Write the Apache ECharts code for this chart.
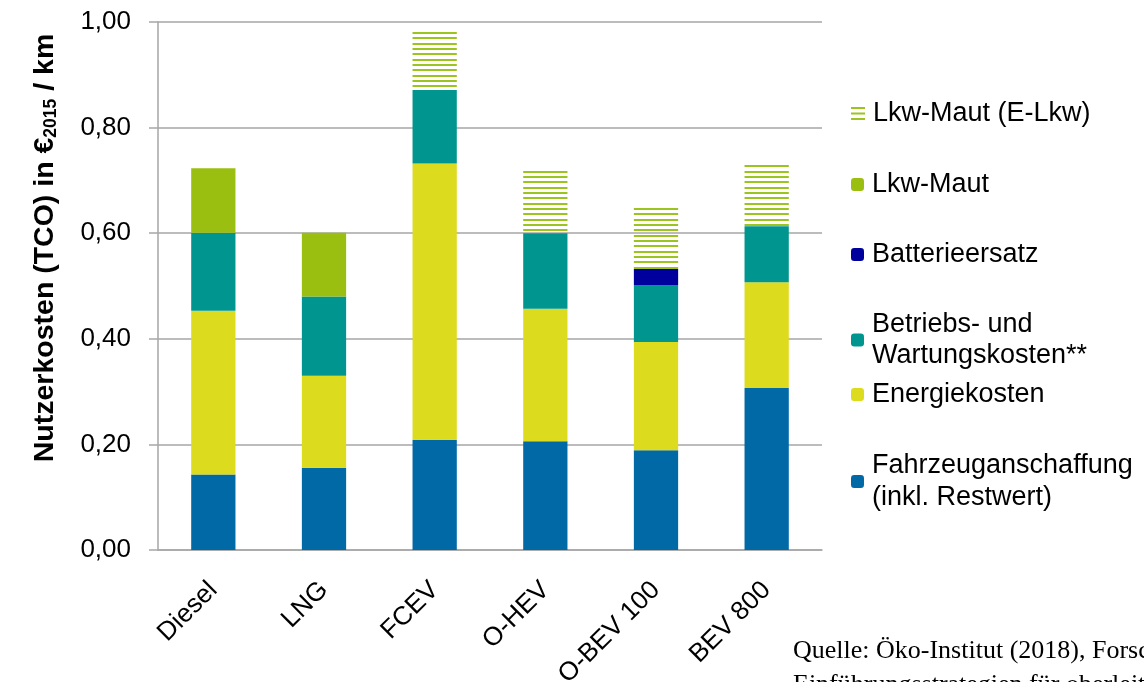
<!DOCTYPE html>
<html>
<head>
<meta charset="utf-8">
<script src="https://cdn.jsdelivr.net/npm/echarts@6/dist/echarts.min.js"></script>
<style>
  html, body { margin: 0; padding: 0; background: #fff; }
  #chart { width: 1144px; height: 682px; }
</style>
</head>
<body>
<div id="chart"></div>
<script>
const categories = ['Diesel', 'LNG', 'FCEV', 'O-HEV', 'O-BEV 100', 'BEV 800']
const yTicks = [0, 0.2, 0.4, 0.6, 0.8, 1.0]

// Kostenbestandteile in €2015 / km (von unten nach oben gestapelt)
const fahrzeug = [0.143, 0.156, 0.209, 0.206, 0.189, 0.307]
const energie = [0.310, 0.174, 0.523, 0.251, 0.205, 0.200]
const betrieb = [0.148, 0.150, 0.139, 0.143, 0.108, 0.106]
const batterie = [0, 0, 0, 0, 0.030, 0]
const maut = [0.122, 0.121, 0, 0, 0, 0]
const mautE = [0, 0, 0.112, 0.120, 0.116, 0.117]

const FONT = '"Liberation Sans", Arial, sans-serif'

// Schraffur fuer Lkw-Maut (E-Lkw)
const hatch = document.createElement('canvas')
hatch.width = 8
hatch.height = 16
const hctx = hatch.getContext('2d')
hctx.fillStyle = '#9cc41e'
;[0, 5, 11].forEach(y => hctx.fillRect(0, y, 8, 2))

const chart = echarts.init(document.getElementById('chart'))

const names = {
  mautE: 'Lkw-Maut (E-Lkw)',
  maut: 'Lkw-Maut',
  batterie: 'Batterieersatz',
  betrieb: 'Betriebs- und Wartungskosten**',
  energie: 'Energiekosten',
  fahrzeug: 'Fahrzeuganschaffung (inkl. Restwert)'
}

const legendRow = (name, top, extra) => Object.assign({
  orient: 'vertical',
  left: 851,
  top: top,
  padding: 0,
  itemWidth: 13,
  itemHeight: 13,
  data: [name],
  textStyle: { fontSize: 27, fontFamily: FONT, color: '#000', padding: [0, 0, 0, 3] }
}, extra || {})

const bar = (name, data, color) => ({
  name: name,
  type: 'bar',
  stack: 'tco',
  barWidth: '40%',
  data: data,
  itemStyle: { color: color }
})

const option = {
  animation: false,
  grid: { left: 158, right: 322, top: 22, bottom: 132, outerBoundsMode: 'none', containLabel: false },
  legend: [
    legendRow(names.mautE, 100, {
      itemWidth: 14,
      itemHeight: 14,
      data: [{
        name: names.mautE,
        icon: 'path://M0,0H14V1.8H0Z M0,5.5H14V7.3H0Z M0,11H14V12.8H0Z',
        itemStyle: { color: '#9cc41e' }
      }]
    }),
    legendRow(names.maut, 171),
    legendRow(names.batterie, 241),
    legendRow(names.betrieb, 311, {
      formatter: () => 'Betriebs- und\nWartungskosten**',
      textStyle: { fontSize: 27, fontFamily: FONT, color: '#000', lineHeight: 31, padding: [0, 0, -31, 3] }
    }),
    legendRow(names.energie, 381),
    legendRow(names.fahrzeug, 452, {
      formatter: () => 'Fahrzeuganschaffung\n(inkl. Restwert)',
      textStyle: { fontSize: 27, fontFamily: FONT, color: '#000', lineHeight: 32, padding: [0, 0, -32, 3] }
    })
  ],
  xAxis: {
    type: 'category',
    data: categories,
    axisLine: { lineStyle: { color: '#a6a6a6', width: 1.5 } },
    axisTick: { length: 8, lineStyle: { color: '#a6a6a6', width: 1.5 } },
    axisLabel: { rotate: 45, fontSize: 26, fontFamily: FONT, color: '#000', margin: 36 }
  },
  yAxis: {
    type: 'value',
    min: yTicks[0],
    max: yTicks[yTicks.length - 1],
    interval: 0.2,
    axisLine: { show: true, lineStyle: { color: '#a6a6a6', width: 1.5 } },
    axisTick: { show: true, length: 9, lineStyle: { color: '#a6a6a6', width: 1.5 } },
    splitLine: { lineStyle: { color: '#a6a6a6', width: 1.5 } },
    axisLabel: {
      fontSize: 26, fontFamily: FONT, color: '#000', margin: 27,
      formatter: v => v.toFixed(2).replace('.', ',')
    }
  },
  graphic: [
    {
      type: 'text',
      x: 45,
      y: 248,
      rotation: Math.PI / 2,
      style: {
        text: '{b|Nutzerkosten (TCO) in €}{s|2015}{b| / km}',
        align: 'center',
        verticalAlign: 'middle',
        rich: {
          b: { fontSize: 28.5, fontWeight: 'bold', fontFamily: FONT, fill: '#000' },
          s: { fontSize: 17.5, fontWeight: 'bold', fontFamily: FONT, fill: '#000', padding: [13, 0, 0, 0] }
        }
      }
    },
    {
      type: 'text',
      left: 793,
      top: 634,
      style: {
        text: 'Quelle: Öko-Institut (2018), Forschungsvorhaben\nEinführungsstrategien für oberleitungsgebundene Lkw',
        fontSize: 26,
        lineHeight: 34,
        fontFamily: '"Liberation Serif", "Times New Roman", serif',
        fill: '#000'
      }
    }
  ],
  series: [
    bar(names.fahrzeug, fahrzeug, '#0069a6'),
    bar(names.energie, energie, '#dcdb1e'),
    bar(names.betrieb, betrieb, '#00968f'),
    bar(names.batterie, batterie, '#00009c'),
    bar(names.maut, maut, '#9abf10'),
    bar(names.mautE, mautE, { image: hatch, repeat: 'repeat' })
  ]
}

chart.setOption(option)
</script>
</body>
</html>
